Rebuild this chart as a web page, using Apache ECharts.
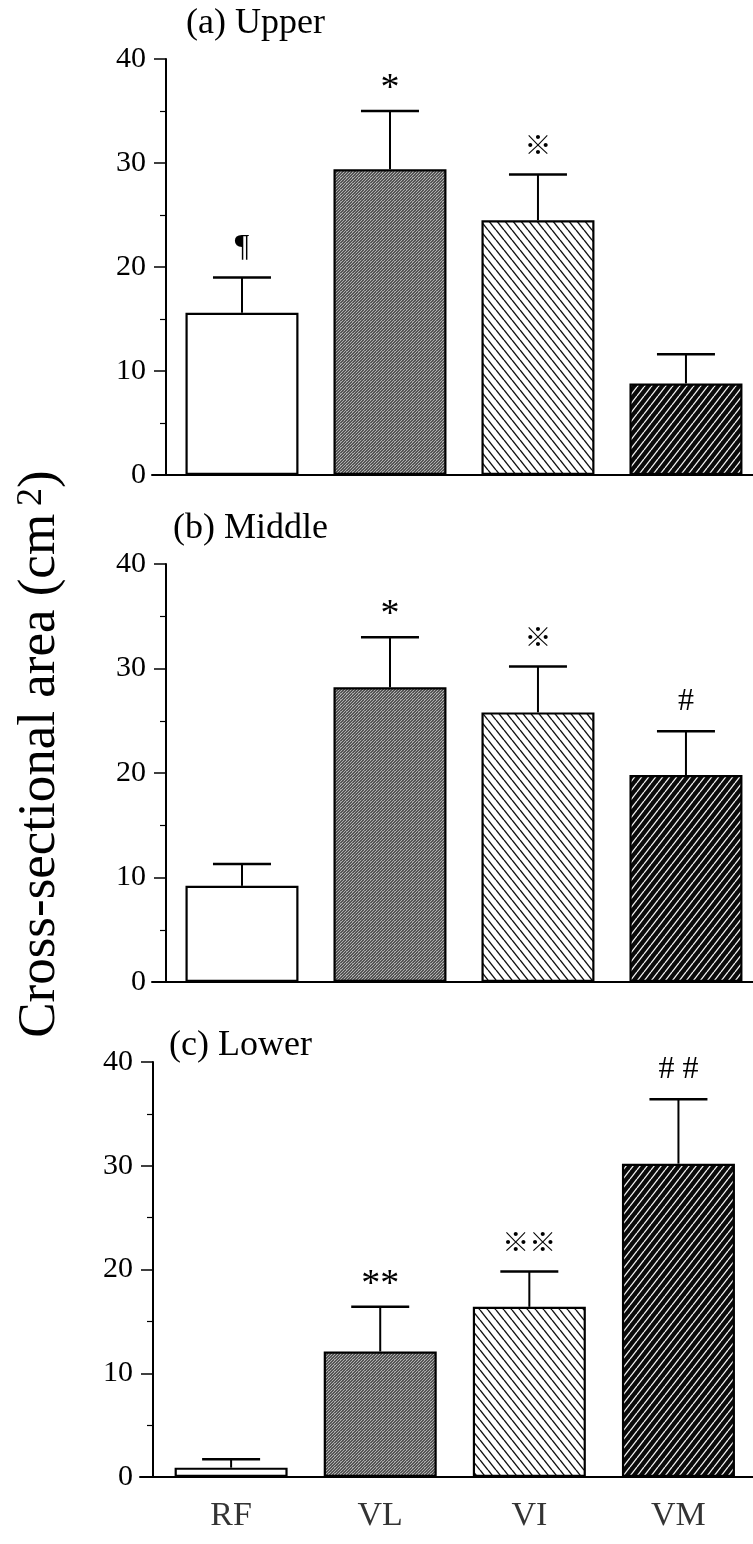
<!DOCTYPE html>
<html>
<head>
<meta charset="utf-8">
<script src="https://cdn.jsdelivr.net/npm/echarts@6/dist/echarts.min.js"></script>
<style>
html,body{margin:0;padding:0;background:#fff;}
#chart{width:753px;height:1544px;}
</style>
</head>
<body>
<div id="chart"></div>
<script>
// ---------- data ----------
const categories = ['RF', 'VL', 'VI', 'VM'];
const panelTitles = ['(a) Upper', '(b) Middle', '(c) Lower'];
const yTicks = [0, 10, 20, 30, 40];

const upperMean = [15.6, 29.4, 24.5, 8.8];
const upperSD   = [3.4, 5.6, 4.4, 2.8];
const upperMarks = ['¶', '*', '※', ''];

const middleMean = [9.2, 28.2, 25.8, 19.8];
const middleSD   = [2.1, 4.8, 4.4, 4.2];
const middleMarks = ['', '*', '※', '#'];

const lowerMean = [0.9, 12.1, 16.4, 30.2];
const lowerSD   = [0.8, 4.3, 3.4, 6.2];
const lowerMarks = ['', '**', '※※', '# #'];

const yAxisTitle = 'Cross-sectional area (cm';
const yAxisTitleSup = '2';

// ---------- patterns ----------
function hatch(w, h, bg, fg, lw, dir) {
  const c = document.createElement('canvas');
  c.width = w; c.height = h;
  const ctx = c.getContext('2d');
  ctx.fillStyle = bg; ctx.fillRect(0, 0, w, h);
  ctx.strokeStyle = fg; ctx.lineWidth = lw;
  for (let k = -w; k <= w; k += w) {
    ctx.beginPath();
    if (dir === '\\') { ctx.moveTo(k, 0); ctx.lineTo(k + w, h); }
    else { ctx.moveTo(k, h); ctx.lineTo(k + w, 0); }
    ctx.stroke();
  }
  return c;
}
function stipple() {
  const c = document.createElement('canvas');
  c.width = 6; c.height = 6;
  const ctx = c.getContext('2d');
  ctx.fillStyle = '#555555'; ctx.fillRect(0, 0, 6, 6);
  ctx.fillStyle = '#b0b0b0';
  for (let i = 0; i < 6; i++) {
    ctx.fillRect((5 - i + 6) % 6, i, 1, 1);
    ctx.fillRect((2 - i + 6) % 6, i, 1, 1);
  }
  ctx.fillStyle = '#909090';
  ctx.fillRect(1, 1, 1, 1); ctx.fillRect(4, 3, 1, 1);
  return c;
}
const fills = [
  '#ffffff',
  { image: stipple(), repeat: 'repeat' },
  { image: hatch(8, 10, '#ffffff', '#111111', 1.4, '\\'), repeat: 'repeat' },
  { image: hatch(7, 9, '#0a0a0a', '#f2f2f2', 1.3, '/'), repeat: 'repeat' }
];

// ---------- layout ----------
const FONT = '"Liberation Serif", "Times New Roman", serif';
const CJK = '"Noto Sans CJK JP", "Noto Sans CJK SC", sans-serif';
const panels = [
  { mean: upperMean, sd: upperSD, marks: upperMarks, top: 59, height: 416, left: 152, xmin: -0.608, xmax: 3.453, yoff: -14, titleLeft: 186, titleTop: 6 },
  { mean: middleMean, sd: middleSD, marks: middleMarks, top: 564, height: 418, left: 152, xmin: -0.608, xmax: 3.453, yoff: -14, titleLeft: 173, titleTop: 511 },
  { mean: lowerMean, sd: lowerSD, marks: lowerMarks, top: 1062, height: 415, left: 140, xmin: -0.611, xmax: 3.50, yoff: -13, titleLeft: 169, titleTop: 1028 }
];

function markStyle(mark) {
  if (mark.indexOf('※') >= 0) return { font: '27px ' + CJK, dy: 0 };
  if (mark.indexOf('*') >= 0) return { font: '38px ' + FONT, dy: 8 };
  return { font: '32px ' + FONT, dy: 0 };
}

const grid = [], xAxis = [], yAxis = [], series = [], title = [];
panels.forEach((p, gi) => {
  grid.push({ left: p.left, right: 0, top: p.top, height: p.height, containLabel: false });
  xAxis.push({
    type: 'value', gridIndex: gi, min: p.xmin, max: p.xmax,
    axisLine: { show: true, lineStyle: { color: '#000', width: 2 } },
    axisTick: { show: false }, axisLabel: { show: false }, splitLine: { show: false }
  });
  yAxis.push({
    type: 'value', gridIndex: gi, min: yTicks[0], max: yTicks[yTicks.length - 1], interval: 10,
    offset: p.yoff,
    axisLine: { show: true, onZero: false, lineStyle: { color: '#000', width: 2 } },
    axisTick: { show: true, inside: false, length: 12, lineStyle: { color: '#000', width: 1.5 } },
    minorTick: { show: true, splitNumber: 2, length: 6, lineStyle: { color: '#000', width: 1.2 } },
    axisLabel: { color: '#000', fontFamily: FONT, fontSize: 30, margin: 20 },
    splitLine: { show: false }
  });
  title.push({
    text: panelTitles[gi], left: p.titleLeft, top: p.titleTop, padding: 0,
    textStyle: { fontFamily: FONT, fontSize: 36, fontWeight: 'normal', color: '#000' }
  });
  series.push({
    type: 'bar', xAxisIndex: gi, yAxisIndex: gi, barWidth: 113,
    data: p.mean.map((v, i) => ({ value: [i, v], itemStyle: { color: fills[i] } })),
    itemStyle: { borderColor: '#000', borderWidth: 2.2 },
    silent: true, animation: false
  });
  series.push({
    type: 'custom', xAxisIndex: gi, yAxisIndex: gi, z: 5, silent: true, animation: false,
    data: p.mean.map((v, i) => [i, v, p.sd[i]]),
    encode: { x: 0, y: 1 },
    renderItem: function (params, api) {
      const i = api.value(0), m = api.value(1), s = api.value(2);
      const a = api.coord([i, m]);
      const b = api.coord([i, m + s]);
      const mark = p.marks[params.dataIndex];
      const ms = markStyle(mark);
      return {
        type: 'group',
        children: [
          { type: 'line', shape: { x1: a[0], y1: a[1], x2: b[0], y2: b[1] }, style: { stroke: '#000', lineWidth: 2 } },
          { type: 'line', shape: { x1: b[0] - 29, y1: b[1], x2: b[0] + 29, y2: b[1] }, style: { stroke: '#000', lineWidth: 2.5 } },
          { type: 'text', x: b[0], y: b[1] - 30 + ms.dy, style: { text: mark, align: 'center', verticalAlign: 'middle', fill: '#000', font: ms.font } }
        ]
      };
    }
  });
});

// category labels beneath the lower panel, placed through the axis scale
series.push({
  type: 'scatter', xAxisIndex: 2, yAxisIndex: 2, symbolSize: 1, silent: true, animation: false,
  itemStyle: { color: 'rgba(0,0,0,0)' },
  data: categories.map((c, i) => [i, 0]),
  label: {
    show: true, position: 'bottom', distance: 22, color: '#000',
    fontFamily: FONT, fontSize: 34,
    formatter: (d) => categories[d.dataIndex]
  }
});

const chart = echarts.init(document.getElementById('chart'), null, { renderer: 'canvas' });
chart.setOption({
  backgroundColor: '#fff',
  animation: false,
  title: title,
  grid: grid,
  xAxis: xAxis,
  yAxis: yAxis,
  series: series,
  graphic: [{
    type: 'text', x: 40, y: 754, rotation: Math.PI / 2,
    style: {
      text: yAxisTitle + '{sup|' + yAxisTitleSup + '})',
      font: '53px ' + FONT, fill: '#000', align: 'center', verticalAlign: 'middle',
      rich: { sup: { fontSize: 36, fontFamily: FONT, verticalAlign: 'top', padding: [0, 0, 0, 8] } }
    }
  }]
});
</script>
</body>
</html>
